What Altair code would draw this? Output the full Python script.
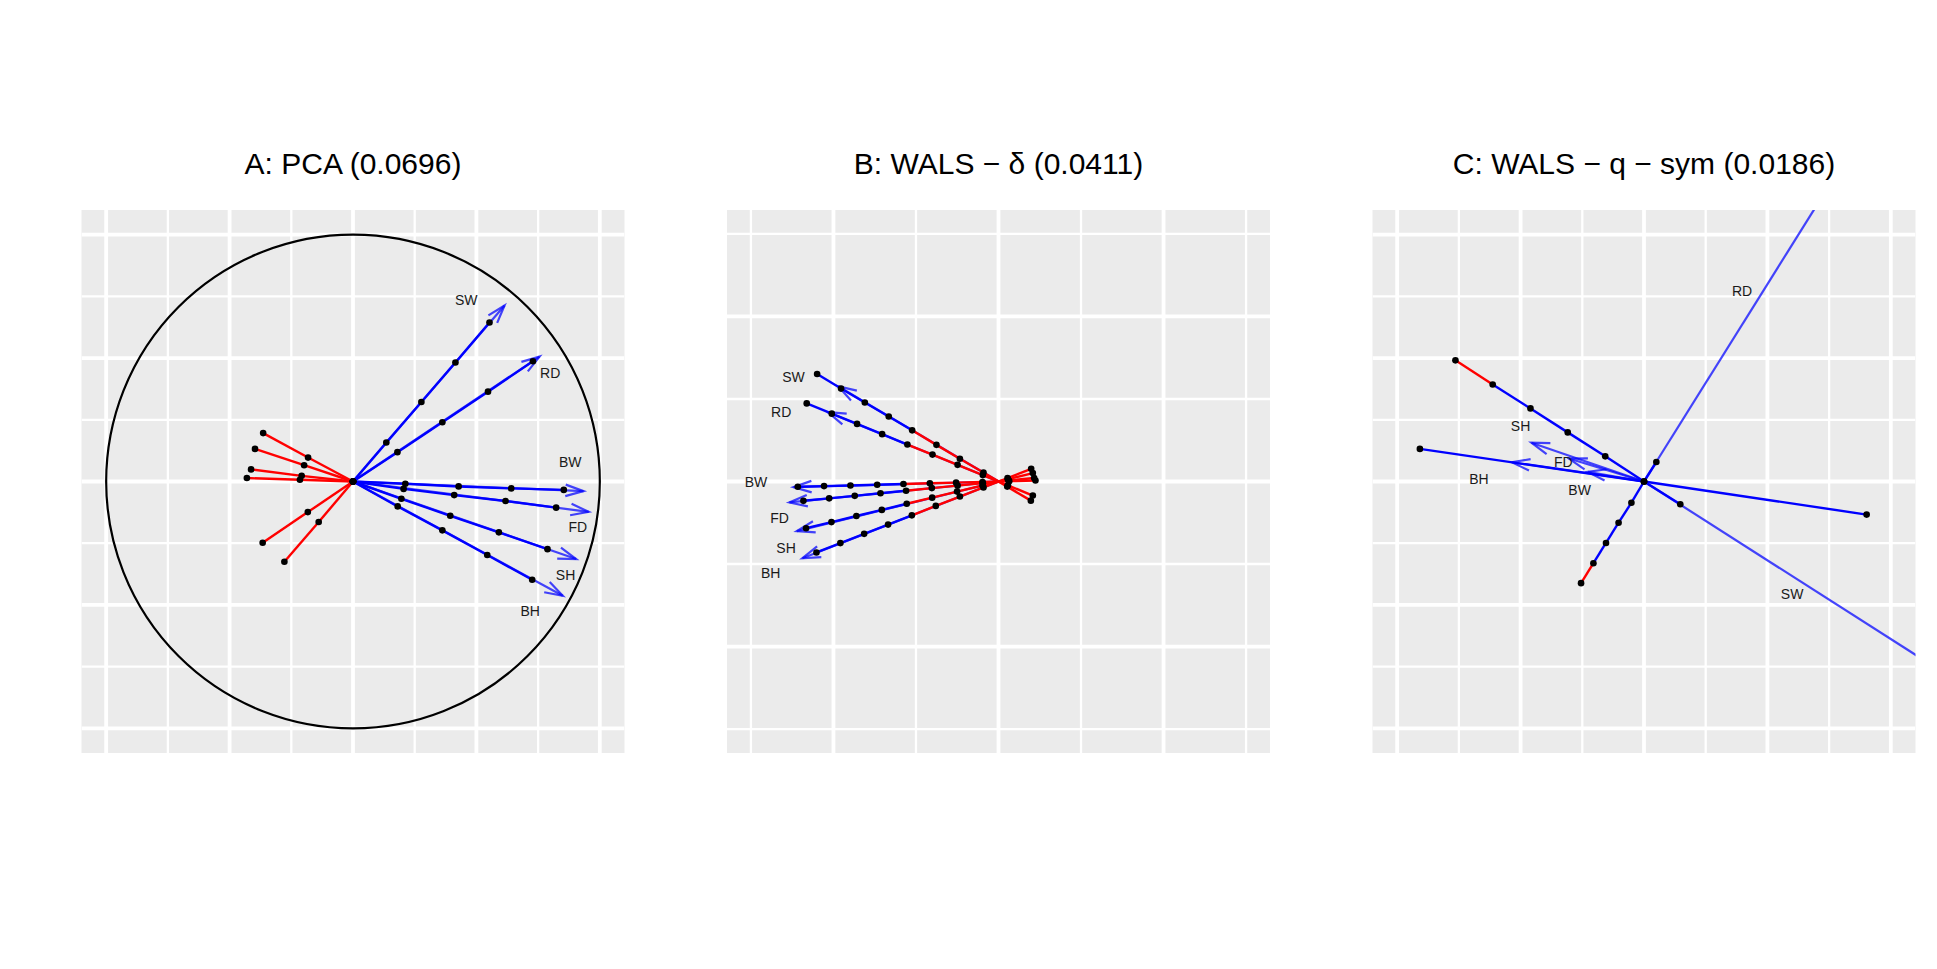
import math
import altair as alt
import pandas as pd

# ---------------------------------------------------------------- data
VARS = ["BW", "FD", "SH", "BH", "RD", "SW"]

# ---- Panel A : PCA (unit circle biplot) ----
A_TITLE = "A: PCA (0.0696)"
A_TIP_X = [0.934, 0.955, 0.904, 0.850, 0.756, 0.614]
A_TIP_Y = [-0.039, -0.123, -0.314, -0.463, 0.506, 0.713]
# calibration markers, ordered from the red end to the blue end
A_MARK_X = [
    [-0.430, -0.215, 0.0, 0.212, 0.428, 0.641, 0.854],   # BW
    [-0.413, -0.208, 0.0, 0.205, 0.410, 0.618, 0.823],   # FD
    [-0.397, -0.198, 0.0, 0.196, 0.394, 0.591, 0.788],   # SH
    [-0.364, -0.182, 0.0, 0.181, 0.362, 0.544, 0.726],   # BH
    [-0.366, -0.183, 0.0, 0.180, 0.362, 0.547, 0.729],   # RD
    [-0.278, -0.139, 0.0, 0.135, 0.277, 0.415, 0.553],   # SW
]
A_MARK_Y = [
    [0.014, 0.007, 0.0, -0.009, -0.020, -0.028, -0.034],
    [0.049, 0.023, 0.0, -0.030, -0.055, -0.079, -0.106],
    [0.132, 0.066, 0.0, -0.070, -0.139, -0.206, -0.274],
    [0.196, 0.097, 0.0, -0.101, -0.198, -0.298, -0.398],
    [-0.248, -0.124, 0.0, 0.119, 0.240, 0.364, 0.487],
    [-0.325, -0.164, 0.0, 0.158, 0.322, 0.482, 0.644],
]
A_SPLIT = [2, 2, 2, 2, 2, 2]
A_LABEL_X = [0.880, 0.911, 0.861, 0.718, 0.799, 0.459]
A_LABEL_Y = [0.074, -0.190, -0.381, -0.530, 0.435, 0.732]
A_GRID = [-1.0, -0.75, -0.5, -0.25, 0.0, 0.25, 0.5, 0.75, 1.0]
A_GRID_MAJOR = [True, False, True, False, True, False, True, False, True]

# ---- Panel B : WALS - delta ----
B_TITLE = "B: WALS \u2212 \u03b4 (0.0411)"
B_TIP_X = [-1.242, -1.267, -1.222, -1.188, -1.034, -0.970]
B_TIP_Y = [-0.034, -0.127, -0.301, -0.465, 0.420, 0.576]
B_MARK_X = [
    [0.224, 0.065, -0.097, -0.257, -0.416, -0.576, -0.735, -0.897, -1.057, -1.216],  # BW
    [0.216, 0.061, -0.095, -0.248, -0.404, -0.560, -0.715, -0.871, -1.026, -1.182],  # FD
    [0.208, 0.057, -0.097, -0.251, -0.402, -0.556, -0.707, -0.861, -1.012, -1.166],  # SH
    [0.198, 0.055, -0.091, -0.234, -0.380, -0.525, -0.669, -0.814, -0.958, -1.103],  # BH
    [0.208, 0.057, -0.095, -0.248, -0.400, -0.552, -0.705, -0.857, -1.010, -1.162],  # RD
    [0.196, 0.053, -0.091, -0.234, -0.376, -0.523, -0.665, -0.810, -0.954, -1.099],  # SW
]
B_MARK_Y = [
    [0.006, 0.002, -0.003, -0.007, -0.011, -0.015, -0.020, -0.024, -0.028, -0.032],
    [0.021, 0.006, -0.010, -0.025, -0.040, -0.056, -0.071, -0.087, -0.102, -0.117],
    [0.051, 0.014, -0.024, -0.061, -0.098, -0.135, -0.172, -0.209, -0.246, -0.283],
    [0.077, 0.021, -0.036, -0.091, -0.148, -0.205, -0.261, -0.317, -0.373, -0.430],
    [-0.085, -0.023, 0.039, 0.101, 0.163, 0.224, 0.287, 0.349, 0.411, 0.473],
    [-0.116, -0.031, 0.054, 0.138, 0.222, 0.310, 0.394, 0.479, 0.563, 0.651],
]
B_SPLIT = [5, 5, 5, 5, 5, 5]
B_LABEL_X = [-1.469, -1.327, -1.287, -1.380, -1.317, -1.242]
B_LABEL_Y = [-0.010, -0.230, -0.406, -0.562, 0.418, 0.630]
B_GRID = [-1.5, -1.0, -0.5, 0.0, 0.5, 1.0, 1.5]
B_GRID_MAJOR = [False, True, False, True, False, True, False]

# ---- Panel C : WALS - q - sym ----
C_TITLE = "C: WALS \u2212 q \u2212 sym (0.0186)"
C_TIP_X = [-0.228, -0.304, -0.456, -0.535, 0.750, 1.250]
C_TIP_Y = [0.039, 0.093, 0.157, 0.078, 1.199, -0.798]
C_AXES = ["BH", "RD", "SW"]
C_MARK_X = [
    [-0.908, 0.0, 0.902],                                           # BH
    [-0.255, -0.205, -0.154, -0.103, -0.051, 0.0, 0.050],           # RD
    [-0.764, -0.613, -0.460, -0.309, -0.157, 0.0, 0.147],           # SW
]
C_MARK_Y = [
    [0.132, 0.0, -0.134],
    [-0.412, -0.331, -0.249, -0.167, -0.086, 0.0, 0.079],
    [0.491, 0.393, 0.296, 0.199, 0.102, 0.0, -0.092],
]
C_SPLIT = [0, 1, 1]
C_LABEL_X = [-0.261, -0.327, -0.500, -0.669, 0.397, 0.600]
C_LABEL_Y = [-0.039, 0.076, 0.221, 0.005, 0.768, -0.460]

ORIGIN = (0.0, 0.0)
UNIT_CIRCLE_R = [1.0]

# ---------------------------------------------------------------- styling
W = 543
H = 543
BLUE = "#0000FF"
RED = "#FF0000"
FONT = "Liberation Sans"
ARROW_SHAPE = "M -1 -0.32 L 0 0 L -1 0.32"


def frames(axis_names, mark_x, mark_y, split, tip_x, tip_y, lab_x, lab_y):
    segs, dots = [], []
    for name, xs, ys, s in zip(axis_names, mark_x, mark_y, split):
        for i in range(len(xs) - 1):
            segs.append({"x": xs[i], "y": ys[i], "x2": xs[i + 1], "y2": ys[i + 1],
                         "kind": "neg" if i < s else "pos", "var": name})
        for px, py in zip(xs, ys):
            dots.append({"x": px, "y": py})
    arrows = []
    for name, tx, ty in zip(VARS, tip_x, tip_y):
        dx, dy = tx - ORIGIN[0], ty - ORIGIN[1]
        ang = math.degrees(math.atan2(-dy, dx)) % 360
        arrows.append({"x": ORIGIN[0], "y": ORIGIN[1], "x2": tx, "y2": ty,
                       "ang": ang, "var": name})
    labels = pd.DataFrame({"x": lab_x, "y": lab_y, "t": VARS})
    return pd.DataFrame(segs), pd.DataFrame(dots), pd.DataFrame(arrows), labels


def panel(title, dom, grid, grid_major, axis_names, mark_x, mark_y,
          split, tip_x, tip_y, lab_x, lab_y, circle=False):
    segs, dots, arrows, labels = frames(axis_names, mark_x, mark_y, split,
                                        tip_x, tip_y, lab_x, lab_y)
    xs = alt.Scale(domain=[-dom, dom], nice=False, zero=False)
    ys = alt.Scale(domain=[-dom, dom], nice=False, zero=False)
    X = lambda f: alt.X(f, type="quantitative", scale=xs, axis=None)
    Y = lambda f: alt.Y(f, type="quantitative", scale=ys, axis=None)

    g = pd.DataFrame({"v": grid, "major": grid_major})
    gminor = g[~g["major"]]
    gmajor = g[g["major"]]
    layers = [
        alt.Chart(gminor).mark_rule(color="white", strokeWidth=2.3, clip=True).encode(x=X("v")),
        alt.Chart(gminor).mark_rule(color="white", strokeWidth=2.3, clip=True).encode(y=Y("v")),
        alt.Chart(gmajor).mark_rule(color="white", strokeWidth=3.8, clip=True).encode(x=X("v")),
        alt.Chart(gmajor).mark_rule(color="white", strokeWidth=3.8, clip=True).encode(y=Y("v")),
    ]
    if circle:
        cdf = pd.DataFrame({"x": [ORIGIN[0]], "y": [ORIGIN[1]], "r": UNIT_CIRCLE_R})
        layers.append(
            alt.Chart(cdf).mark_arc(filled=False, color="black", strokeWidth=2.2,
                                    theta=0, theta2=2 * math.pi, clip=True)
            .encode(x=X("x"), y=Y("y"),
                    radius=alt.Radius("r:Q", scale=alt.Scale(type="linear", domain=[0, dom],
                                                             range=[0, W / 2], zero=True)))
        )
    layers += [
        alt.Chart(arrows).mark_rule(color=BLUE, opacity=0.72, strokeWidth=2.2, clip=True)
        .encode(x=X("x"), y=Y("y"), x2="x2", y2="y2"),
        alt.Chart(arrows).mark_point(shape=ARROW_SHAPE, filled=False, size=1300, color=BLUE,
                                     opacity=0.72, strokeWidth=2.2, clip=True)
        .encode(x=X("x2"), y=Y("y2"), angle=alt.Angle("ang:Q", scale=None)),
        alt.Chart(segs).mark_rule(strokeWidth=2.4, clip=True)
        .encode(x=X("x"), y=Y("y"), x2="x2", y2="y2",
                color=alt.Color("kind:N", scale=alt.Scale(domain=["neg", "pos"], range=[RED, BLUE]),
                                legend=None)),
        alt.Chart(dots).mark_circle(size=44, color="black", opacity=1, clip=True)
        .encode(x=X("x"), y=Y("y")),
        alt.Chart(labels).mark_text(font=FONT, fontSize=14, color="#1a1a1a", align="center",
                                    baseline="middle", clip=True)
        .encode(x=X("x"), y=Y("y"), text="t:N"),
        alt.Chart(pd.DataFrame({"t": [title]})).mark_text(font=FONT, fontSize=30, color="black",
                                                          align="center", baseline="alphabetic")
        .encode(x=alt.value(W / 2), y=alt.value(-36), text="t:N"),
    ]
    return alt.layer(*layers).properties(width=W, height=H)


pA = panel(A_TITLE, 1.1, A_GRID, A_GRID_MAJOR, VARS, A_MARK_X, A_MARK_Y, A_SPLIT,
           A_TIP_X, A_TIP_Y, A_LABEL_X, A_LABEL_Y, circle=True)
pB = panel(B_TITLE, 1.645, B_GRID, B_GRID_MAJOR, VARS, B_MARK_X, B_MARK_Y, B_SPLIT,
           B_TIP_X, B_TIP_Y, B_LABEL_X, B_LABEL_Y)
pC = panel(C_TITLE, 1.1, A_GRID, A_GRID_MAJOR, C_AXES, C_MARK_X, C_MARK_Y, C_SPLIT,
           C_TIP_X, C_TIP_Y, C_LABEL_X, C_LABEL_Y)

chart = (
    alt.hconcat(pA, pB, pC, spacing=102.5)
    .properties(padding={"left": 73.5, "top": 142, "right": 0, "bottom": 0}, background="white")
    .configure_view(fill="#EBEBEB", strokeWidth=0)
)

chart.save("out.html", embed_options={"renderer": "svg", "actions": False})
